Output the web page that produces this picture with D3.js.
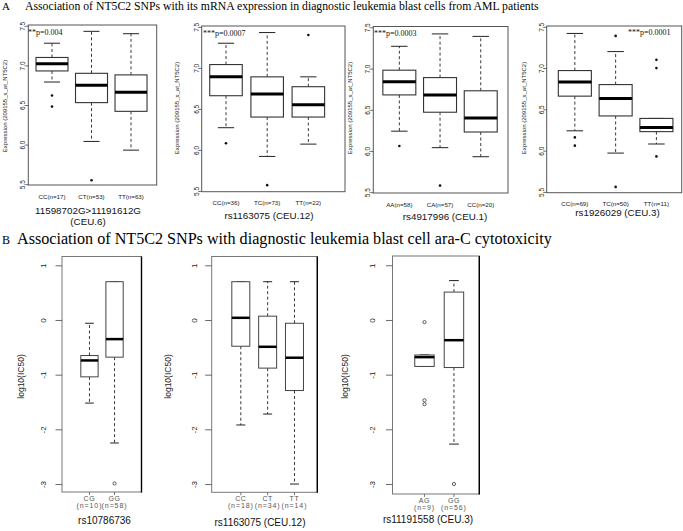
<!DOCTYPE html>
<html><head><meta charset="utf-8">
<script src="https://cdn.jsdelivr.net/npm/d3@7"></script>
<style>body{margin:0;background:#fff} svg{display:block}</style>
</head><body><svg id="c" width="683" height="531"></svg>
<script>
// ---------- DATA ----------
// stats per group: [lower whisker, Q1, median, Q3, upper whisker]
const titleA = "Association of NT5C2 SNPs with its mRNA expression in diagnostic leukemia blast cells from AML patients";
const titleB = "Association of NT5C2 SNPs with diagnostic leukemia blast cell ara-C cytotoxicity";
const yLabelA = "Expression (209155_s_at_NT5C2)";
const yLabelB = "log10(IC50)";
const ticksA = [5.5, 6.0, 6.5, 7.0, 7.5];
const ticksB = [-3, -2, -1, 0, 1];

const a1Labels = ["CC(n=17)", "CT(n=53)", "TT(n=63)"];
const a1Stats = [[6.79, 6.93, 7.02, 7.10, 7.28], [6.04, 6.53, 6.75, 6.90, 7.43], [5.93, 6.42, 6.66, 6.88, 7.40]];
const a1Outliers = [[6.62, 6.48], [5.55], []];
const a1Title = ["11598702G>11191612G", "(CEU.6)"];
const a1P = "**p=0.004";

const a2Labels = ["CC(n=36)", "TC(n=73)", "TT(n=22)"];
const a2Stats = [[6.27, 6.66, 6.89, 7.04, 7.30], [5.92, 6.40, 6.68, 6.89, 7.43], [6.07, 6.40, 6.55, 6.77, 6.89]];
const a2Outliers = [[6.08], [5.57], [7.40]];
const a2Title = ["rs1163075 (CEU.12)"];
const a2P = "***p=0.0007";

const a3Labels = ["AA(n=58)", "CA(n=57)", "CC(n=20)"];
const a3Stats = [[6.24, 6.68, 6.84, 6.98, 7.27], [6.04, 6.47, 6.68, 6.89, 7.42], [5.93, 6.23, 6.40, 6.73, 7.39]];
const a3Outliers = [[6.06], [5.58], []];
const a3Title = ["rs4917996 (CEU.1)"];
const a3P = "***p=0.0003";

const a4Labels = ["CC(n=69)", "TC(n=50)", "TT(n=11)"];
const a4Stats = [[6.24, 6.66, 6.83, 6.97, 7.42], [5.97, 6.42, 6.63, 6.80, 7.20], [6.08, 6.23, 6.28, 6.39, 6.39]];
const a4Outliers = [[6.16, 6.06], [7.39, 5.56], [7.10, 7.00, 5.93]];
const a4Title = ["rs1926029 (CEU.3)"];
const a4P = "***p=0.0001";

const b1Genotypes = ["CG", "GG"];
const b1N = ["(n=10)", "(n=58)"];
const b1Stats = [[-1.52, -1.04, -0.74, -0.65, -0.06], [-2.25, -0.68, -0.35, 0.70, 0.70]];
const b1Outliers = [[], [-2.99]];
const b1Title = "rs10786736";

const b2Genotypes = ["CC", "CT", "TT"];
const b2N = ["(n=18)", "(n=34)", "(n=14)"];
const b2Stats = [[-1.92, -0.48, 0.04, 0.70, 0.70], [-1.72, -0.88, -0.49, 0.07, 0.70], [-3.00, -1.29, -0.69, -0.06, 0.70]];
const b2Outliers = [[], [], []];
const b2Title = "rs1163075 (CEU.12)";

const b3Genotypes = ["AG", "GG"];
const b3N = ["(n=9)", "(n=56)"];
const b3Stats = [[-0.85, -0.85, -0.68, -0.64, -0.64], [-2.27, -0.87, -0.37, 0.51, 0.72]];
const b3Outliers = [[-0.04, -1.47, -1.54], [-3.00]];
const b3Title = "rs11191558 (CEU.3)";

// ---------- DRAWING ----------
const svg = d3.select("#c");
const SANS = "Liberation Sans, Arial, sans-serif";
const SERIF = "Liberation Serif, Times New Roman, serif";

function fitText(x, y, fs, width, txt) {
  const t = svg.append("text").attr("x", x).attr("y", y).attr("font-family", SERIF).attr("font-size", fs).attr("fill", "#000").text(txt);
  const w = t.node().getComputedTextLength();
  if (w > 0) t.attr("font-size", fs * width / w);
  return t;
}
// titles
svg.append("text").attr("x", 2).attr("y", 9.5).attr("font-family", SERIF).attr("font-size", 11).text("A");
fitText(25, 9.5, 11.5, 514, titleA);
svg.append("text").attr("x", 2).attr("y", 243.5).attr("font-family", SERIF).attr("font-size", 12).text("B");
fitText(17, 243.5, 15, 535, titleB);

function yAxis(g, y, x0, ticks, tickLen, labelCx, fs, fmt) {
  const ax = d3.axisLeft(y).tickValues(ticks).tickSize(tickLen).tickFormat(fmt);
  const a = g.append("g").attr("transform", `translate(${x0},0)`).call(ax);
  a.select(".domain").remove();
  a.selectAll(".tick line").attr("stroke", "#444").attr("stroke-width", 0.8);
  a.selectAll(".tick text").attr("x", null).attr("dy", null)
    .attr("transform", `translate(${labelCx - x0 + fs * 0.36},0) rotate(-90)`)
    .attr("text-anchor", "middle").attr("font-size", fs).attr("font-family", SANS).attr("fill", "#222");
}

function boxes(g, x, y, stats, outs, boxW, st) {
  stats.forEach((s, i) => {
    const cx = x(i + 1);
    const hw = x(i + 1 + boxW / 2) - cx;
    const cw = hw * 0.5;
    const [lo, q1, med, q3, hi] = s;
    g.append("line").attr("x1", cx).attr("x2", cx).attr("y1", y(q3)).attr("y2", y(hi))
      .attr("stroke", "#222").attr("stroke-width", 0.9).attr("stroke-dasharray", st.dash);
    g.append("line").attr("x1", cx).attr("x2", cx).attr("y1", y(q1)).attr("y2", y(lo))
      .attr("stroke", "#222").attr("stroke-width", 0.9).attr("stroke-dasharray", st.dash);
    [lo, hi].forEach(v => g.append("line").attr("x1", cx - cw).attr("x2", cx + cw).attr("y1", y(v)).attr("y2", y(v))
      .attr("stroke", "#222").attr("stroke-width", 1));
    g.append("rect").attr("x", cx - hw).attr("width", 2 * hw).attr("y", y(q3)).attr("height", y(q1) - y(q3))
      .attr("fill", "#fff").attr("stroke", st.boxStroke).attr("stroke-width", st.boxW);
    g.append("line").attr("x1", cx - hw).attr("x2", cx + hw).attr("y1", y(med)).attr("y2", y(med))
      .attr("stroke", "#000").attr("stroke-width", st.medW);
    outs[i].forEach(v => {
      g.append("circle").attr("cx", cx).attr("cy", y(v)).attr("r", st.r)
        .attr("fill", st.filled ? "#111" : "none").attr("stroke", st.filled ? "none" : "#333").attr("stroke-width", 0.8);
    });
  });
}

function panelA(cfg, labels, stats, outs, title, pText) {
  const x = d3.scaleLinear().domain([cfg.xlo, cfg.xhi]).range([cfg.x0, cfg.x1]);
  const y = d3.scaleLinear().domain([5.49, 7.51]).range([cfg.y1, cfg.y0]);
  const g = svg.append("g");
  g.append("rect").attr("x", cfg.x0).attr("y", cfg.y0).attr("width", cfg.x1 - cfg.x0).attr("height", cfg.y1 - cfg.y0)
    .attr("fill", "none").attr("stroke", "#555").attr("stroke-width", 1);
  yAxis(g, y, cfg.x0, ticksA, 3, cfg.x0 - 5.5, 6.5, d3.format(".1f"));
  boxes(g, x, y, stats, outs, cfg.boxW, { dash: "3,2.5", boxStroke: "#333", boxW: 1.1, medW: 3, r: 1.3, filled: true });
  labels.forEach((l, i) => g.append("text").attr("x", x(i + 1)).attr("y", cfg.y1 + 13.5).attr("text-anchor", "middle")
    .attr("font-family", SANS).attr("font-size", 6.2).attr("fill", "#222").text(l));
  title.forEach((t, i) => g.append("text").attr("x", cfg.tx).attr("y", cfg.ty + i * 11).attr("text-anchor", "middle")
    .attr("font-family", SANS).attr("font-size", 9.8).attr("fill", "#111").text(t));
  g.append("text").attr("transform", `translate(${cfg.ylx + 2.2},${cfg.yly}) rotate(-90)`).attr("text-anchor", "middle")
    .attr("font-family", SANS).attr("font-size", 6).attr("fill", "#222").text(yLabelA);
  g.append("text").attr("x", cfg.px).attr("y", cfg.py).attr("font-family", SERIF).attr("font-size", 8).attr("fill", "#111").text(pText);
}

function panelB(cfg, genos, ns, stats, outs, title) {
  const x = d3.scaleLinear().domain([cfg.xlo, cfg.xhi]).range([cfg.x0, cfg.x1]);
  const y = d3.scaleLinear().domain(cfg.yDom).range([cfg.y1, cfg.y0]);
  const g = svg.append("g");
  g.append("rect").attr("x", cfg.x0).attr("y", cfg.y0).attr("width", cfg.x1 - cfg.x0).attr("height", cfg.y1 - cfg.y0)
    .attr("fill", "none").attr("stroke", "#777").attr("stroke-width", 1);
  g.append("line").attr("x1", cfg.x1).attr("x2", cfg.x1).attr("y1", cfg.y0).attr("y2", cfg.y1 + 0.5)
    .attr("stroke", "#000").attr("stroke-width", 1.4);
  yAxis(g, y, cfg.x0, ticksB, 6.5, cfg.x0 - cfg.tl, 8, d => String(d));
  boxes(g, x, y, stats, outs, cfg.boxW, { dash: "3,2.5", boxStroke: "#444", boxW: 1, medW: 2.5, r: 1.6, filled: false });
  genos.forEach((t, i) => {
    g.append("line").attr("x1", x(i + 1)).attr("x2", x(i + 1)).attr("y1", cfg.y1).attr("y2", cfg.y1 + 3).attr("stroke", "#555").attr("stroke-width", 0.8);
    g.append("text").attr("x", x(i + 1)).attr("y", cfg.y1 + 8.5).attr("text-anchor", "middle")
      .attr("font-family", SANS).attr("font-size", 7).attr("letter-spacing", 0.6).attr("fill", "#555").text(t);
    g.append("text").attr("x", x(i + 1)).attr("y", cfg.y1 + 16).attr("text-anchor", "middle")
      .attr("font-family", SANS).attr("font-size", 7).attr("letter-spacing", 0.9).attr("fill", "#555").text(ns[i]);
  });
  g.append("text").attr("x", cfg.tx).attr("y", cfg.ty).attr("text-anchor", "middle")
    .attr("font-family", SANS).attr("font-size", 10).attr("fill", "#111").text(title);
  g.append("text").attr("transform", `translate(${cfg.ylx + 3},376.5) rotate(-90)`).attr("text-anchor", "middle")
    .attr("font-family", SANS).attr("font-size", 8.5).attr("fill", "#222").text(yLabelB);
}

panelA({ x0: 28.3, x1: 156.7, y0: 25, y1: 185, xlo: 0.4, xhi: 3.65, boxW: 0.81, tx: 88, ty: 213.5, ylx: 5, yly: 106, px: 28, py: 35 },
  a1Labels, a1Stats, a1Outliers, a1Title, a1P);
panelA({ x0: 201.7, x1: 345, y0: 26, y1: 191.7, xlo: 0.41, xhi: 3.89, boxW: 0.79, tx: 269, ty: 219, ylx: 176.7, yly: 108, px: 203, py: 36 },
  a2Labels, a2Stats, a2Outliers, a2Title, a2P);
panelA({ x0: 373.3, x1: 508, y0: 26.5, y1: 193, xlo: 0.36, xhi: 3.67, boxW: 0.81, tx: 445, ty: 219.5, ylx: 350, yly: 108, px: 374, py: 36 },
  a3Labels, a3Stats, a3Outliers, a3Title, a3P);
panelA({ x0: 546.7, x1: 681.7, y0: 26, y1: 192.7, xlo: 0.31, xhi: 3.62, boxW: 0.81, tx: 617.5, ty: 216, ylx: 524, yly: 108, px: 628, py: 35 },
  a4Labels, a4Stats, a4Outliers, a4Title, a4P);

panelB({ x0: 62, x1: 141.5, y0: 256.5, y1: 492, yDom: [-3.146, 1.161], xlo: -0.095, xhi: 3.075, boxW: 0.69, tl: 19, tx: 104.5, ty: 523.5, ylx: 20.7 },
  b1Genotypes, b1N, b1Stats, b1Outliers, b1Title);
panelB({ x0: 211.7, x1: 317.3, y0: 256.5, y1: 492.3, yDom: [-3.151, 1.161], xlo: -0.084, xhi: 3.85, boxW: 0.67, tl: 17.5, tx: 260, ty: 526, ylx: 168.3 },
  b2Genotypes, b2N, b2Stats, b2Outliers, b2Title);
panelB({ x0: 392.5, x1: 479.3, y0: 256, y1: 494, yDom: [-3.183, 1.17], xlo: -0.085, xhi: 2.86, boxW: 0.66, tl: 20.5, tx: 428, ty: 523, ylx: 345 },
  b3Genotypes, b3N, b3Stats, b3Outliers, b3Title);
</script>
</body></html>
